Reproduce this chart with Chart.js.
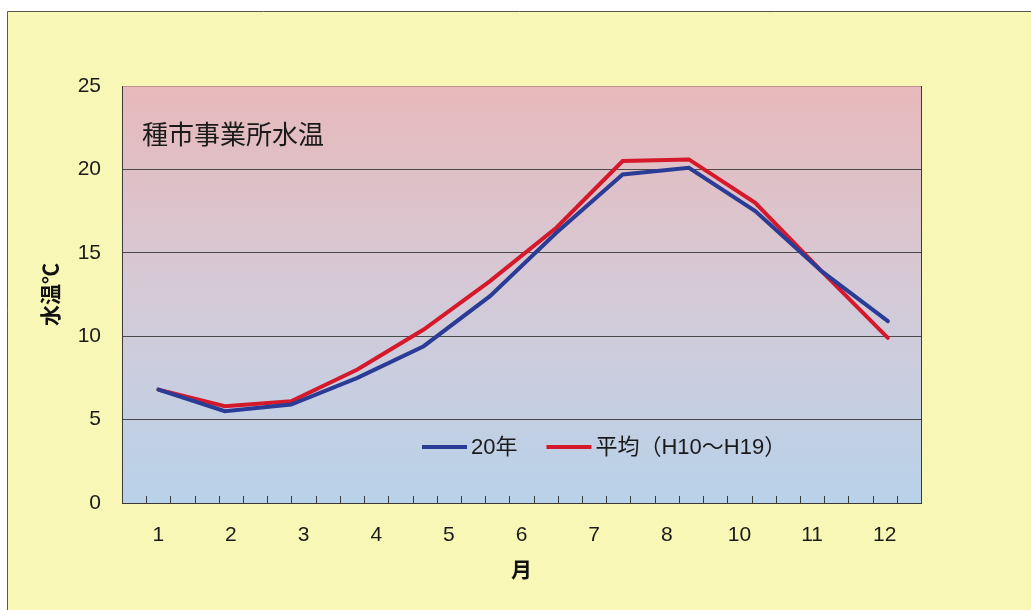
<!DOCTYPE html>
<html lang="ja">
<head>
<meta charset="utf-8">
<title>種市事業所水温</title>
<script src="https://cdn.jsdelivr.net/npm/chart.js@4.4.1/dist/chart.umd.min.js"></script>
<style>
  html, body { margin: 0; padding: 0; background: #fff; }
  #wrap { width: 1031px; height: 610px; }
</style>
</head>
<body>
<div id="wrap"><canvas id="tempChart" width="1031" height="610"></canvas></div>
<script>
// monthly slots the readings are plotted on
const months = [1, 2, 3, 4, 5, 6, 7, 8, 9, 10, 11, 12];
// labels printed under the axis
const monthLabels = ['1', '2', '3', '4', '5', '6', '7', '8', '10', '11', '12'];
// water temperature (°C)
const temp20 = [6.8, 5.5, 5.9, 7.5, 9.4, 12.4, 16.2, 19.7, 20.1, 17.5, 13.9, 10.9];
const tempAvg = [6.8, 5.8, 6.1, 8.0, 10.4, 13.3, 16.5, 20.5, 20.6, 18.0, 13.9, 9.9];
const yTicks = [0, 5, 10, 15, 20, 25];

const FONT = "'Liberation Sans', 'Noto Sans CJK JP', sans-serif";
const JP = "'Noto Sans CJK JP', sans-serif";

function toPoints(values) {
  return months.map((m, i) => ({ x: m, y: values[i] }));
}

// page background, framed panel and the gradient behind the plot
const backdrop = {
  id: 'backdrop',
  beforeDraw(chart) {
    const { ctx, chartArea: a, width, height } = chart;
    ctx.save();
    ctx.fillStyle = '#ffffff';
    ctx.fillRect(0, 0, width, height);
    ctx.fillStyle = '#f9f7b6';
    ctx.fillRect(7, 11, width - 7, height - 11);
    ctx.strokeStyle = '#5a5a50';
    ctx.lineWidth = 1;
    ctx.beginPath();
    ctx.moveTo(7.5, height);
    ctx.lineTo(7.5, 11.5);
    ctx.lineTo(width, 11.5);
    ctx.stroke();

    const g = ctx.createLinearGradient(0, a.top, 0, a.bottom);
    g.addColorStop(0, '#e7b9bb');
    g.addColorStop(0.5, '#d5cad7');
    g.addColorStop(1, '#b8d2ea');
    ctx.fillStyle = g;
    ctx.fillRect(a.left, a.top, a.right - a.left, a.bottom - a.top);
    ctx.restore();
  }
};

// right edge of the plot, small tick marks along the bottom, title and legend
const decorations = {
  id: 'decorations',
  afterDatasetsDraw(chart) {
    const { ctx, chartArea: a } = chart;
    const x = chart.scales.x;
    ctx.save();

    ctx.strokeStyle = '#3a3a3a';
    ctx.lineWidth = 1;
    ctx.beginPath();
    ctx.moveTo(Math.round(a.right) + 0.5, a.top);
    ctx.lineTo(Math.round(a.right) + 0.5, a.bottom);
    ctx.stroke();

    const w = x.getPixelForValue(1) - x.getPixelForValue(0);
    const left = x.getPixelForValue(0) - w / 2;
    ctx.beginPath();
    for (let k = 1; k < monthLabels.length * 3; k++) {
      const px = Math.round(left + k * w / 3) + 0.5;
      ctx.moveTo(px, a.bottom);
      ctx.lineTo(px, a.bottom - 7);
    }
    ctx.stroke();

    ctx.fillStyle = '#1a1a1a';
    ctx.textBaseline = 'middle';
    ctx.font = '26px ' + JP;
    ctx.fillText('種市事業所水温', a.left + 20, a.top + 48);

    // legend inside the plot
    let lx = a.left + 300;
    const ly = a.top + 361;
    ctx.font = '22px ' + FONT;
    chart.data.datasets.forEach(ds => {
      ctx.strokeStyle = ds.borderColor;
      ctx.lineWidth = 4;
      ctx.beginPath();
      ctx.moveTo(lx, ly);
      ctx.lineTo(lx + 45, ly);
      ctx.stroke();
      lx += 49;
      ctx.fillStyle = '#1a1a1a';
      ctx.fillText(ds.label, lx, ly + 1);
      lx += ctx.measureText(ds.label).width + 29;
    });
    ctx.restore();
  }
};

const chart = new Chart(document.getElementById('tempChart'), {
  type: 'line',
  data: {
    datasets: [
      {
        label: '20年',
        data: toPoints(temp20),
        xAxisID: 'x2',
        borderColor: '#2a3c96',
        borderWidth: 4,
        pointRadius: 0,
        borderCapStyle: 'round',
        tension: 0
      },
      {
        label: '平均（H10〜H19）',
        data: toPoints(tempAvg),
        xAxisID: 'x2',
        borderColor: '#d5192b',
        borderWidth: 4,
        pointRadius: 0,
        borderCapStyle: 'round',
        tension: 0
      }
    ]
  },
  options: {
    responsive: false,
    animation: false,
    layout: { padding: { left: 28, top: 86, right: 110, bottom: 22 } },
    plugins: {
      legend: { display: false },
      tooltip: { enabled: false }
    },
    scales: {
      x: {
        type: 'category',
        labels: monthLabels,
        offset: true,
        position: 'bottom',
        grid: { display: false, drawTicks: false },
        border: { display: true, color: '#3a3a3a', width: 1 },
        ticks: { padding: 20, color: '#1a1a1a', font: { size: 21, family: FONT } },
        title: {
          display: true,
          text: '月',
          color: '#111',
          font: { size: 21, family: JP, weight: 'bold' },
          padding: { top: 0, bottom: 6 }
        },
        afterFit(scale) { scale.height = 85; }
      },
      x2: { type: 'linear', display: false, min: 0.45, max: 12.5 },
      y: {
        min: 0,
        max: 25,
        afterBuildTicks(scale) { scale.ticks = yTicks.map(v => ({ value: v })); },
        grid: {
          drawTicks: false,
          lineWidth: 1,
          color: c => (c.tick && c.tick.value === 25) ? 'rgba(150,110,110,0.5)' : '#4a4a4a'
        },
        border: { display: true, color: '#3a3a3a', width: 1 },
        ticks: { padding: 21, color: '#1a1a1a', font: { size: 21, family: FONT } },
        title: {
          display: true,
          text: '水温℃',
          color: '#111',
          font: { size: 21, family: JP, weight: 'bold' },
          padding: { top: 9, bottom: 0 }
        },
        afterFit(scale) { scale.width = 94; }
      }
    }
  },
  plugins: [backdrop, decorations]
});
</script>
</body>
</html>
